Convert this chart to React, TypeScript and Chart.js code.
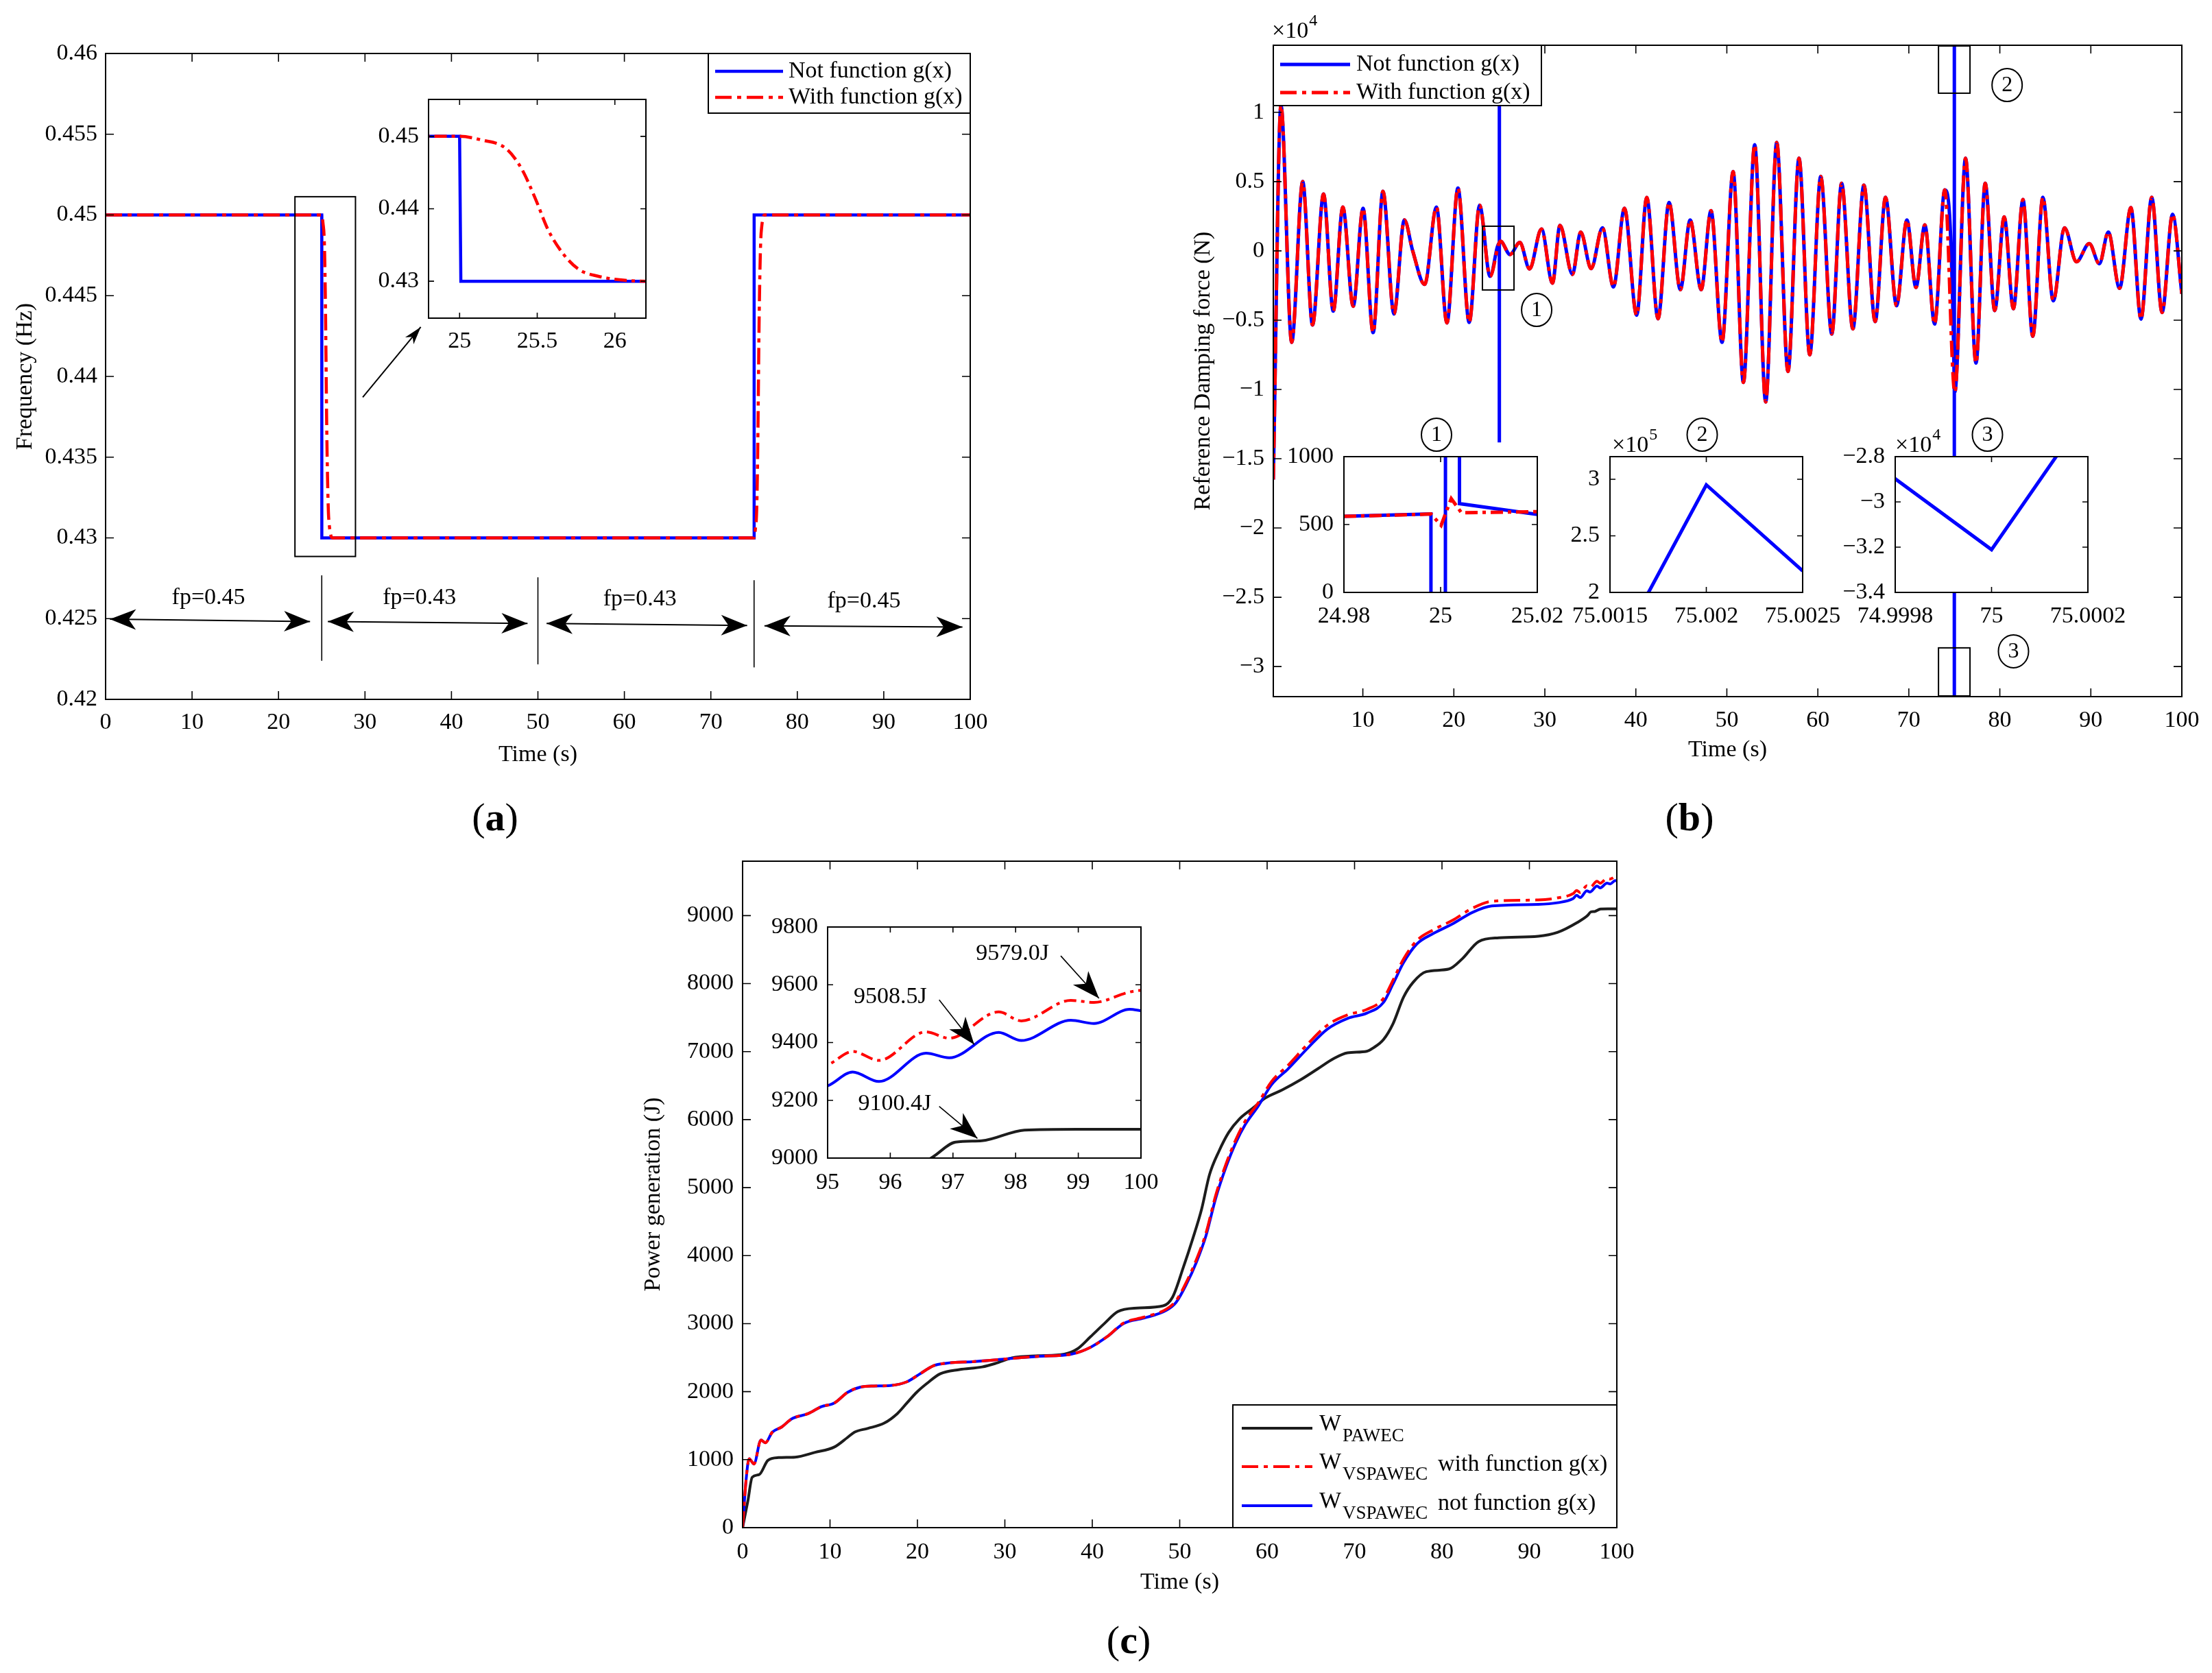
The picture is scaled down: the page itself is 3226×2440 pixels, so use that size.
import React, { useEffect, useRef } from "react";
import { Chart, registerables } from "chart.js";

Chart.register(...registerables);

const SERIF = '"Liberation Serif", "Times New Roman", serif';
const BLUE = "#0000ff";
const RED = "#ff0000";
const DARK = "#1c1c1c";
const DASHDOT = [24, 8, 6, 8];

// ---------- (a) frequency (Hz) ----------
const aTicksX = [0, 10, 20, 30, 40, 50, 60, 70, 80, 90, 100];
const aTicksY = [0.42, 0.425, 0.43, 0.435, 0.44, 0.445, 0.45, 0.455, 0.46];
const aInsetTicksX = [25, 25.5, 26];
const aInsetTicksY = [0.43, 0.44, 0.45];
const aBlueT = [0, 25, 25.008, 75, 75.008, 100];
const aBlueF = [0.45, 0.45, 0.43, 0.43, 0.45, 0.45];
const aRedT = [
  0, 25, 25.14, 25.3, 25.4, 25.49, 25.57, 25.67, 25.77, 25.89, 26.03, 26.2,
  75, 75.14, 75.3, 75.4, 75.49, 75.57, 75.67, 75.77, 75.89, 76.03, 76.2, 100,
];
const aRedF = [
  0.45, 0.45, 0.4495, 0.4483, 0.4455, 0.4413, 0.4371, 0.4337, 0.4316, 0.4307, 0.4302, 0.43,
  0.43, 0.4305, 0.4317, 0.4345, 0.4387, 0.4429, 0.4463, 0.4484, 0.4493, 0.4498, 0.45, 0.45,
];

// ---------- (b) reference damping force (x10^4 N) ----------
const bTicksX = [10, 20, 30, 40, 50, 60, 70, 80, 90, 100];
const bTicksY = [-3, -2.5, -2, -1.5, -1, -0.5, 0, 0.5, 1];
const waveT = [
  0.16, 1.0, 2.18, 3.39, 4.47, 5.68, 6.75, 7.8, 8.94, 10.02,
  11.13, 12.21, 13.42, 14.56, 15.48, 16.79, 18.09, 19.24, 20.45, 21.69,
  22.83, 23.98, 25.12, 26.17, 27.25, 28.32, 29.63, 30.84, 31.66, 33.03,
  33.94, 35.09, 36.33, 37.54, 38.75, 40.09, 41.2, 42.44, 43.65, 44.89,
  45.97, 47.18, 48.26, 49.47, 50.69, 51.82, 53.06, 54.27, 55.48, 56.72,
  57.93, 59.11, 60.32, 61.53, 62.61, 63.85, 65.06, 66.3, 67.44, 68.65,
  69.79, 70.78, 71.76, 72.83, 73.95, 75.05, 76.23, 77.38, 78.39, 79.44,
  80.48, 81.49, 82.54, 83.62, 84.73, 85.87, 87.11, 88.42, 89.83, 90.94,
  91.92, 93.16, 94.4, 95.51, 96.69, 97.83, 98.98, 100,
];
const waveF = [
  -1.65, 1.05, -0.66, 0.5, -0.535, 0.41, -0.435, 0.316, -0.4, 0.307,
  -0.59, 0.43, -0.456, 0.223, 0.0, -0.242, 0.316, -0.52, 0.453, -0.517,
  0.33, -0.184, 0.07, -0.026, 0.061, -0.13, 0.158, -0.233, 0.184, -0.17,
  0.135, -0.128, 0.167, -0.26, 0.307, -0.465, 0.386, -0.49, 0.35, -0.28,
  0.223, -0.28, 0.29, -0.66, 0.572, -0.95, 0.766, -1.09, 0.783, -0.87,
  0.669, -0.75, 0.537, -0.6, 0.488, -0.563, 0.475, -0.51, 0.387, -0.396,
  0.224, -0.264, 0.188, -0.528, 0.44, -1.02, 0.669, -0.81, 0.488, -0.431,
  0.246, -0.417, 0.37, -0.616, 0.387, -0.361, 0.167, -0.079, 0.053, -0.093,
  0.136, -0.27, 0.312, -0.493, 0.387, -0.445, 0.264, -0.31,
];
// switching spikes of the curve without g(x)
const spike25T = [24.998, 24.9981, 25.0008, 25.0012, 25.0038, 25.0039];
const spike25F = [0.0578, -1.37, -1.37, 1.52, 1.52, 0.0654];
const spike75T = [74.999, 74.9998, 75, 75.000134, 75.0017, 75.002, 75.0025, 75.003];
const spike75F = [-1.0, -2.898, -3.211, -2.8, 20.0, 29.5, 21.9, -1.0];
// inset 1 (N)
const in1TicksX = [24.98, 25, 25.02];
const in1TicksY = [0, 500, 1000];
const in1BlueT = [24.98, 24.998, 24.9981, 25.0008, 25.0012, 25.0038, 25.0039, 25.02];
const in1BlueN = [560, 578, -13700, -13700, 15200, 15200, 654, 575];
const in1RedT = [24.98, 24.996, 24.998, 25.0001, 25.0022, 25.0043, 25.02];
const in1RedN = [560, 575, 578, 494, 691, 587, 595];
// inset 2 (x10^5 N) and inset 3 (x10^4 N)
const in2TicksX = [75.0015, 75.002, 75.0025];
const in2TicksY = [2, 2.5, 3];
const in3TicksX = [74.9998, 75, 75.0002];
const in3TicksY = [-3.4, -3.2, -3, -2.8];

// ---------- (c) power generation (J) ----------
const cTicksX = [0, 10, 20, 30, 40, 50, 60, 70, 80, 90, 100];
const cTicksY = [0, 1000, 2000, 3000, 4000, 5000, 6000, 7000, 8000, 9000];
const cInsetTicksX = [95, 96, 97, 98, 99, 100];
const cInsetTicksY = [9000, 9200, 9400, 9600, 9800];
const cPawecT = [
  0, 0.6, 1.1, 1.9, 2.9, 4.1, 6.0, 8.3, 10.5, 12.0,
  12.8, 14.3, 16.2, 17.7, 18.8, 19.9, 21.1, 22.6, 24.8, 27.4,
  29.0, 30.8, 33.8, 36.8, 38.3, 39.8, 41.4, 42.9, 45.1, 48.1,
  49.2, 50.4, 51.5, 52.5, 53.4, 54.5, 55.6, 56.8, 58.3, 59.8,
  61.7, 63.9, 65.8, 67.7, 69.2, 71.4, 72.2, 73.3, 74.4, 75.6,
  76.7, 78.2, 80.8, 82.3, 84.2, 86.5, 91.0, 93.2, 95.5, 96.65,
  97.04, 97.46, 98.14, 98.98, 100,
];
const cPawecW = [
  0, 390, 741, 780, 990, 1030, 1037, 1108, 1186, 1326,
  1404, 1459, 1537, 1677, 1833, 1989, 2122, 2262, 2324, 2363,
  2418, 2496, 2527, 2551, 2629, 2808, 3003, 3175, 3229, 3261,
  3393, 3822, 4251, 4680, 5187, 5538, 5811, 6006, 6162, 6318,
  6435, 6591, 6747, 6903, 6981, 7005, 7059, 7176, 7410, 7800,
  8019, 8175, 8214, 8362, 8619, 8674, 8697, 8752, 8900, 9000,
  9055, 9060, 9097, 9100, 9100,
];
const cVspT = [
  0, 0.4, 0.75, 1.3, 2.1, 2.6, 3.4, 4.5, 5.6, 7.5,
  9.0, 10.5, 12.0, 13.5, 15.0, 16.9, 18.8, 20.3, 21.8, 23.3,
  26.3, 30.1, 33.8, 37.6, 39.8, 41.7, 43.6, 45.9, 48.5, 49.6,
  50.8, 51.9, 53.0, 54.1, 55.3, 56.4, 57.5, 59.0, 60.5, 62.4,
  64.7, 66.9, 69.2, 71.4, 73.3, 74.4, 75.6, 77.1, 79.0, 81.2,
  83.5, 85.7, 91.0, 93.2, 95.0, 95.4, 95.82, 96.57, 96.94, 97.73,
  98.09, 98.88, 99.25, 99.82, 100,
];
const cVspNoG = [
  0, 702, 1014, 936, 1287, 1248, 1404, 1482, 1599, 1677,
  1778, 1833, 1989, 2067, 2083, 2090, 2145, 2262, 2379, 2418,
  2441, 2480, 2519, 2551, 2652, 2808, 3003, 3081, 3198, 3315,
  3588, 3900, 4290, 4836, 5304, 5655, 5928, 6201, 6513, 6747,
  7059, 7332, 7488, 7566, 7722, 7995, 8307, 8580, 8736, 8877,
  9048, 9142, 9165, 9189, 9250, 9298, 9265, 9363, 9347, 9435,
  9407, 9477, 9466, 9515, 9510,
];
const cVspG = [
  0, 702, 1014, 936, 1287, 1248, 1404, 1482, 1599, 1677,
  1778, 1833, 1989, 2067, 2083, 2090, 2145, 2262, 2379, 2418,
  2441, 2480, 2519, 2551, 2652, 2808, 3010, 3095, 3215, 3340,
  3620, 3940, 4330, 4880, 5350, 5700, 5980, 6250, 6560, 6800,
  7120, 7390, 7540, 7620, 7780, 8050, 8360, 8630, 8790, 8930,
  9110, 9210, 9230, 9260, 9323, 9369, 9338, 9437, 9415, 9506,
  9475, 9546, 9539, 9575, 9581,
];

// ---------- helpers ----------
type Rect = { x: number; y: number; w: number; h: number };
type Box = { l: number; t: number; r: number; b: number };

const pts = (xs: number[], ys: number[]) => xs.map((x, i) => ({ x, y: ys[i] }));
const fmt = (v: number) => String(v).replace("-", "\u2212");

const bBlue = [...pts(waveT, waveF), ...pts(spike25T, spike25F), ...pts(spike75T, spike75F)].sort(
  (p, q) => p.x - q.x
);

function padFor(c: Rect, a: Box, yFit: number, xFit: number) {
  return { left: a.l - c.x - yFit, top: a.t - c.y, right: c.x + c.w - a.r, bottom: c.y + c.h - a.b - xFit };
}

function scale(min: number, max: number, ticks: number[], fit: number, pad: number, title?: string) {
  return {
    type: "linear",
    min,
    max,
    afterBuildTicks: (s: any) => {
      s.ticks = ticks.map((value) => ({ value }));
    },
    afterFit: (s: any) => {
      if (s.isHorizontal()) s.height = fit;
      else s.width = fit;
    },
    grid: { display: false, drawTicks: false },
    border: { display: false },
    ticks: {
      autoSkip: false,
      maxRotation: 0,
      minRotation: 0,
      padding: pad,
      color: "#000",
      font: { family: SERIF, size: 34 },
      callback: (v: any) => fmt(Number(v)),
    },
    title: { display: !!title, text: title || "", color: "#000", font: { family: SERIF, size: 34 }, padding: 0 },
  };
}

function series(data: any[], color: string, width: number, dash: number[], smooth: boolean) {
  return {
    data,
    borderColor: color,
    backgroundColor: color,
    borderWidth: width,
    borderDash: dash,
    pointRadius: 0,
    pointHoverRadius: 0,
    tension: 0,
    cubicInterpolationMode: smooth ? "monotone" : "default",
    fill: false,
    clip: 0,
  };
}

function baseOptions(padding: any, x: any, y: any) {
  return {
    animation: false,
    responsive: true,
    maintainAspectRatio: false,
    devicePixelRatio: 1,
    events: [],
    layout: { padding },
    plugins: { legend: { display: false }, tooltip: { enabled: false } },
    scales: { x, y },
  };
}

function frame(chart: any, xt: number[], yt: number[], len: number) {
  const { ctx, chartArea: a, scales } = chart;
  ctx.save();
  ctx.strokeStyle = "#000";
  ctx.setLineDash([]);
  ctx.lineWidth = 1.6;
  ctx.beginPath();
  for (const v of xt) {
    const p = scales.x.getPixelForValue(v);
    ctx.moveTo(p, a.bottom);
    ctx.lineTo(p, a.bottom - len);
    ctx.moveTo(p, a.top);
    ctx.lineTo(p, a.top + len);
  }
  for (const v of yt) {
    const p = scales.y.getPixelForValue(v);
    ctx.moveTo(a.left, p);
    ctx.lineTo(a.left + len, p);
    ctx.moveTo(a.right, p);
    ctx.lineTo(a.right - len, p);
  }
  ctx.stroke();
  ctx.lineWidth = 2;
  ctx.strokeRect(a.left, a.top, a.right - a.left, a.bottom - a.top);
  ctx.restore();
}

const whiteArea = {
  id: "whiteArea",
  beforeDraw(chart: any) {
    const { ctx, chartArea: a } = chart;
    ctx.save();
    ctx.fillStyle = "#fff";
    ctx.fillRect(a.left, a.top, a.right - a.left, a.bottom - a.top);
    ctx.restore();
  },
};

function txt(ctx: any, s: string, x: number, y: number, size: number, align = "center") {
  ctx.font = `${size}px ${SERIF}`;
  ctx.fillStyle = "#000";
  ctx.textAlign = align;
  ctx.textBaseline = "middle";
  ctx.fillText(s, x, y);
}

function head(ctx: any, x0: number, y0: number, x1: number, y1: number, len: number, half: number, back = 0.72) {
  const ang = Math.atan2(y1 - y0, x1 - x0);
  const c = Math.cos(ang);
  const s = Math.sin(ang);
  ctx.beginPath();
  ctx.moveTo(x1, y1);
  ctx.lineTo(x1 - len * c - half * s, y1 - len * s + half * c);
  ctx.lineTo(x1 - len * back * c, y1 - len * back * s);
  ctx.lineTo(x1 - len * c + half * s, y1 - len * s - half * c);
  ctx.closePath();
  ctx.fill();
}

function arrow(ctx: any, x0: number, y0: number, x1: number, y1: number, lw: number, len: number, half: number, both = false) {
  ctx.save();
  ctx.strokeStyle = "#000";
  ctx.fillStyle = "#000";
  ctx.lineWidth = lw;
  ctx.setLineDash([]);
  ctx.beginPath();
  ctx.moveTo(x0, y0);
  ctx.lineTo(x1, y1);
  ctx.stroke();
  head(ctx, x0, y0, x1, y1, len, half);
  if (both) head(ctx, x1, y1, x0, y0, len, half);
  ctx.restore();
}

function sample(ctx: any, x0: number, x1: number, y: number, color: string, width: number, dash: number[]) {
  ctx.save();
  ctx.strokeStyle = color;
  ctx.lineWidth = width;
  ctx.setLineDash(dash);
  ctx.beginPath();
  ctx.moveTo(x0, y);
  ctx.lineTo(x1, y);
  ctx.stroke();
  ctx.restore();
}

function legendBox(ctx: any, x: number, y: number, w: number, h: number) {
  ctx.save();
  ctx.fillStyle = "#fff";
  ctx.fillRect(x, y, w, h);
  ctx.strokeStyle = "#000";
  ctx.lineWidth = 2;
  ctx.setLineDash([]);
  ctx.strokeRect(x, y, w, h);
  ctx.restore();
}

function circled(ctx: any, label: string, x: number, y: number) {
  ctx.save();
  ctx.strokeStyle = "#000";
  ctx.lineWidth = 2;
  ctx.setLineDash([]);
  ctx.beginPath();
  ctx.ellipse(x, y, 22, 24, 0, 0, Math.PI * 2);
  ctx.stroke();
  txt(ctx, label, x, y + 1, 32);
  ctx.restore();
}

function power(ctx: any, x: number, y: number, exp: string) {
  ctx.save();
  txt(ctx, "\u00d710", x, y, 34, "left");
  ctx.font = `34px ${SERIF}`;
  const w = ctx.measureText("\u00d710").width;
  txt(ctx, exp, x + w + 1, y - 15, 24, "left");
  ctx.restore();
}

// ---------- layout (page pixels) ----------
const A_RECT: Rect = { x: 0, y: 0, w: 1460, h: 1160 };
const A_AREA: Box = { l: 154, t: 78, r: 1415, b: 1020 };
const AI_RECT: Rect = { x: 510, y: 100, w: 490, h: 460 };
const AI_AREA: Box = { l: 625, t: 145, r: 942, b: 464 };
const B_RECT: Rect = { x: 1690, y: 0, w: 1536, h: 1160 };
const B_AREA: Box = { l: 1857, t: 66, r: 3182, b: 1016 };
const B1_RECT: Rect = { x: 1850, y: 600, w: 450, h: 340 };
const B1_AREA: Box = { l: 1960, t: 666, r: 2242, b: 864 };
const B2_RECT: Rect = { x: 2250, y: 600, w: 460, h: 340 };
const B2_AREA: Box = { l: 2348, t: 666, r: 2629, b: 864 };
const B3_RECT: Rect = { x: 2660, y: 600, w: 480, h: 340 };
const B3_AREA: Box = { l: 2764, t: 666, r: 3045, b: 864 };
const C_RECT: Rect = { x: 900, y: 1200, w: 1520, h: 1240 };
const C_AREA: Box = { l: 1083, t: 1256, r: 2358, b: 2228 };
const CI_RECT: Rect = { x: 1090, y: 1310, w: 640, h: 470 };
const CI_AREA: Box = { l: 1207, t: 1352, r: 1664, b: 1689 };

// ---------- chart configs ----------
function buildA() {
  return {
    type: "line",
    data: {
      datasets: [
        series(pts(aRedT, aRedF), RED, 4.5, DASHDOT, true),
        series(pts(aBlueT, aBlueF), BLUE, 4.5, [], false),
      ],
    },
    options: baseOptions(
      padFor(A_RECT, A_AREA, 137, 101),
      scale(0, 100, aTicksX, 101, 14, "Time (s)"),
      scale(0.42, 0.46, aTicksY, 137, 12, "Frequency (Hz)")
    ),
    plugins: [
      {
        id: "decoA",
        afterDatasetsDraw(chart: any) {
          const { ctx, chartArea: a, scales } = chart;
          const X = (v: number) => scales.x.getPixelForValue(v);
          const Y = (v: number) => scales.y.getPixelForValue(v);
          frame(chart, aTicksX, aTicksY, 12);
          ctx.save();
          ctx.strokeStyle = "#000";
          ctx.lineWidth = 2;
          ctx.setLineDash([]);
          ctx.strokeRect(X(21.9), Y(0.45113), X(28.9) - X(21.9), Y(0.42885) - Y(0.45113));
          arrow(ctx, X(29.74), Y(0.43871), X(36.45), Y(0.44306), 2, 26, 8);
          ctx.lineWidth = 1.6;
          for (const [sx, y0, y1] of [
            [25, 0.42768, 0.42239],
            [50, 0.42756, 0.42217],
            [75, 0.42738, 0.42198],
          ]) {
            ctx.beginPath();
            ctx.moveTo(X(sx), Y(y0));
            ctx.lineTo(X(sx), Y(y1));
            ctx.stroke();
          }
          const spans: [number, number, number, number, string, number, number][] = [
            [0.5, 0.42497, 23.65, 0.42482, "fp=0.45", 11.9, 0.42628],
            [25.7, 0.42482, 48.8, 0.4247, "fp=0.43", 36.3, 0.42628],
            [51.0, 0.4247, 74.2, 0.42458, "fp=0.43", 61.8, 0.42619],
            [76.2, 0.42455, 99.1, 0.42448, "fp=0.45", 87.7, 0.42606],
          ];
          for (const [x0, y0, x1, y1, s, tx, ty] of spans) {
            arrow(ctx, X(x0), Y(y0), X(x1), Y(y1), 2, 38, 15, true);
            txt(ctx, s, X(tx), Y(ty), 34);
          }
          const lx = a.right - 382;
          const ly = a.top;
          legendBox(ctx, lx, ly, 382, 87);
          sample(ctx, lx + 10, lx + 109, ly + 26, BLUE, 4.5, []);
          txt(ctx, "Not function g(x)", lx + 117, ly + 26, 34, "left");
          sample(ctx, lx + 10, lx + 109, ly + 64, RED, 4.5, DASHDOT);
          txt(ctx, "With function g(x)", lx + 117, ly + 64, 34, "left");
          ctx.restore();
        },
      },
    ],
  };
}

function buildAInset() {
  return {
    type: "line",
    data: {
      datasets: [
        series(pts(aRedT, aRedF), RED, 4.5, [18, 7, 5, 7], true),
        series(pts(aBlueT, aBlueF), BLUE, 4.5, [], false),
      ],
    },
    options: baseOptions(
      padFor(AI_RECT, AI_AREA, 90, 60),
      scale(24.8, 26.2, aInsetTicksX, 60, 14),
      scale(0.4249, 0.4551, aInsetTicksY, 90, 14)
    ),
    plugins: [
      whiteArea,
      {
        id: "decoAI",
        afterDatasetsDraw(chart: any) {
          frame(chart, aInsetTicksX, aInsetTicksY, 8);
        },
      },
    ],
  };
}

function buildB() {
  return {
    type: "line",
    data: {
      datasets: [
        series(pts(waveT, waveF), RED, 5, DASHDOT, true),
        series(bBlue, BLUE, 5, [], true),
      ],
    },
    options: baseOptions(
      padFor(B_RECT, B_AREA, 122, 98),
      scale(0.16, 100, bTicksX, 98, 15, "Time (s)"),
      scale(-3.217, 1.484, bTicksY, 122, 13, "Reference Damping force (N)")
    ),
    plugins: [
      {
        id: "decoB",
        afterDatasetsDraw(chart: any) {
          const { ctx, chartArea: a, scales } = chart;
          const X = (v: number) => scales.x.getPixelForValue(v);
          const Y = (v: number) => scales.y.getPixelForValue(v);
          frame(chart, bTicksX, bTicksY, 12);
          ctx.save();
          ctx.strokeStyle = "#000";
          ctx.lineWidth = 2;
          ctx.setLineDash([]);
          for (const [x0, y0, x1, y1] of [
            [23.14, 0.178, 26.61, -0.282],
            [73.26, 1.479, 76.72, 1.138],
            [73.26, -2.865, 76.72, -3.212],
          ]) {
            ctx.strokeRect(X(x0), Y(y0), X(x1) - X(x0), Y(y1) - Y(y0));
          }
          circled(ctx, "1", X(29.1), Y(-0.426));
          circled(ctx, "2", X(80.8), Y(1.197));
          circled(ctx, "3", X(81.5), Y(-2.89));
          legendBox(ctx, a.left, a.top, 391, 88);
          sample(ctx, a.left + 10, a.left + 112, a.top + 28, BLUE, 5, []);
          txt(ctx, "Not function g(x)", a.left + 121, a.top + 28, 34, "left");
          sample(ctx, a.left + 10, a.left + 112, a.top + 69, RED, 5, DASHDOT);
          txt(ctx, "With function g(x)", a.left + 121, a.top + 69, 34, "left");
          power(ctx, a.left - 2, a.top - 20, "4");
          ctx.restore();
        },
      },
    ],
  };
}

function buildBInset(n: number) {
  const cfg: any = {
    1: {
      rect: B1_RECT, area: B1_AREA, yFit: 95,
      x: [24.98, 25.02, in1TicksX], y: [0, 1000, in1TicksY],
      data: [
        series(pts(in1RedT, in1RedN), RED, 5, [18, 7, 5, 7], false),
        series(pts(in1BlueT, in1BlueN), BLUE, 5, [], false),
      ],
    },
    2: {
      rect: B2_RECT, area: B2_AREA, yFit: 80,
      x: [75.0015, 75.0025, in2TicksX], y: [2, 3.2, in2TicksY], exp: "5",
      data: [
        series(
          bBlue.filter((p) => p.x > 74 && p.x < 76).map((p) => ({ x: p.x, y: p.y / 10 })),
          BLUE, 5, [], false
        ),
      ],
    },
    3: {
      rect: B3_RECT, area: B3_AREA, yFit: 90,
      x: [74.9998, 75.0002, in3TicksX], y: [-3.4, -2.8, in3TicksY], exp: "4",
      data: [series(bBlue.filter((p) => p.x > 74 && p.x < 76), BLUE, 5, [], false)],
    },
  }[n];
  return {
    type: "line",
    data: { datasets: cfg.data },
    options: baseOptions(
      padFor(cfg.rect, cfg.area, cfg.yFit, 60),
      scale(cfg.x[0], cfg.x[1], cfg.x[2], 60, 15),
      scale(cfg.y[0], cfg.y[1], cfg.y[2], cfg.yFit, 15)
    ),
    plugins: [
      whiteArea,
      {
        id: "decoB" + n,
        afterDatasetsDraw(chart: any) {
          const { ctx, chartArea: a } = chart;
          frame(chart, cfg.x[2], cfg.y[2], 8);
          circled(ctx, String(n), (a.left + a.right) / 2 - 6, a.top - 32);
          if (cfg.exp) power(ctx, a.left + (n === 2 ? 3 : 0), a.top - 16, cfg.exp);
        },
      },
    ],
  };
}

function buildC() {
  return {
    type: "line",
    data: {
      datasets: [
        series(pts(cVspT, cVspG), RED, 4, DASHDOT, true),
        series(pts(cVspT, cVspNoG), BLUE, 4, [], true),
        series(pts(cPawecT, cPawecW), DARK, 4, [], true),
      ],
    },
    options: baseOptions(
      padFor(C_RECT, C_AREA, 150, 100),
      scale(0, 100, cTicksX, 100, 16, "Time (s)"),
      scale(0, 9800, cTicksY, 150, 13, "Power generation (J)")
    ),
    plugins: [
      {
        id: "decoC",
        afterDatasetsDraw(chart: any) {
          const { ctx, chartArea: a } = chart;
          frame(chart, cTicksX, cTicksY, 12);
          const lx = a.right - 560;
          const ly = a.bottom - 179;
          legendBox(ctx, lx, ly, 560, 179);
          const rows: [number, string, number[], string, string][] = [
            [34, DARK, [], "PAWEC", ""],
            [90, RED, DASHDOT, "VSPAWEC", "with function g(x)"],
            [147, BLUE, [], "VSPAWEC", "not function g(x)"],
          ];
          for (const [dy, col, dash, sub, rest] of rows) {
            const y = ly + dy;
            sample(ctx, lx + 13, lx + 116, y, col, 4, dash);
            txt(ctx, "W", lx + 126, y - 6, 34, "left");
            txt(ctx, sub, lx + 160, y + 12, 27, "left");
            if (rest) txt(ctx, rest, lx + 299, y - 3, 34, "left");
          }
        },
      },
    ],
  };
}

function buildCInset() {
  return {
    type: "line",
    data: {
      datasets: [
        series(pts(cVspT, cVspG), RED, 4, [18, 7, 5, 7], true),
        series(pts(cVspT, cVspNoG), BLUE, 4, [], true),
        series(pts(cPawecT, cPawecW), DARK, 4, [], true),
      ],
    },
    options: baseOptions(
      padFor(CI_RECT, CI_AREA, 95, 60),
      scale(95, 100, cInsetTicksX, 60, 16),
      scale(9000, 9800, cInsetTicksY, 95, 14)
    ),
    plugins: [
      whiteArea,
      {
        id: "decoCI",
        afterDatasetsDraw(chart: any) {
          const { ctx, scales } = chart;
          const X = (v: number) => scales.x.getPixelForValue(v);
          const Y = (v: number) => scales.y.getPixelForValue(v);
          frame(chart, cInsetTicksX, cInsetTicksY, 8);
          txt(ctx, "9579.0J", X(97.95), Y(9707), 34);
          arrow(ctx, X(98.72), Y(9700), X(99.33), Y(9553), 1.6, 40, 15);
          txt(ctx, "9508.5J", X(96.0), Y(9557), 34);
          arrow(ctx, X(96.78), Y(9548), X(97.34), Y(9393), 1.6, 40, 15);
          txt(ctx, "9100.4J", X(96.07), Y(9188), 34);
          arrow(ctx, X(96.78), Y(9179), X(97.39), Y(9068), 1.6, 40, 15);
        },
      },
    ],
  };
}

// ---------- components ----------
function Plot({ rect, build }: { rect: Rect; build: () => any }) {
  const ref = useRef<HTMLCanvasElement>(null);
  useEffect(() => {
    if (!ref.current) return;
    const chart = new Chart(ref.current, build());
    return () => chart.destroy();
  }, []);
  return (
    <div style={{ position: "absolute", left: rect.x, top: rect.y, width: rect.w, height: rect.h }}>
      <canvas ref={ref} />
    </div>
  );
}

function Tag({ letter, cx, cy }: { letter: string; cx: number; cy: number }) {
  return (
    <div
      style={{
        position: "absolute",
        left: cx - 100,
        top: cy - 35,
        width: 200,
        height: 70,
        lineHeight: "70px",
        textAlign: "center",
        fontFamily: SERIF,
        fontSize: 58,
        color: "#000",
      }}
    >
      (<span style={{ fontWeight: "bold" }}>{letter}</span>)
    </div>
  );
}

export default function App() {
  return (
    <div
      style={{
        position: "absolute",
        left: 0,
        top: 0,
        width: 3226,
        height: 2440,
        background: "#fff",
        overflow: "hidden",
      }}
    >
      <Plot rect={A_RECT} build={buildA} />
      <Plot rect={AI_RECT} build={buildAInset} />
      <Plot rect={B_RECT} build={buildB} />
      <Plot rect={B1_RECT} build={() => buildBInset(1)} />
      <Plot rect={B2_RECT} build={() => buildBInset(2)} />
      <Plot rect={B3_RECT} build={() => buildBInset(3)} />
      <Plot rect={C_RECT} build={buildC} />
      <Plot rect={CI_RECT} build={buildCInset} />
      <Tag letter="a" cx={722} cy={1192} />
      <Tag letter="b" cx={2464} cy={1192} />
      <Tag letter="c" cx={1646} cy={2392} />
    </div>
  );
}
